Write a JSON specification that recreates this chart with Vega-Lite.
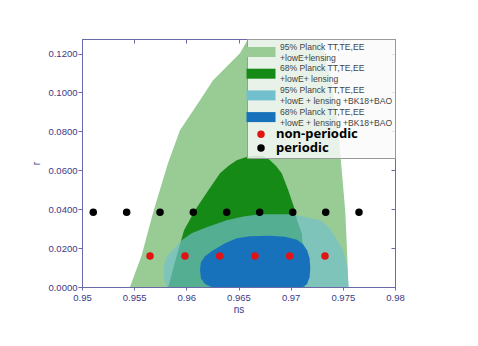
{
  "$schema": "https://vega.github.io/schema/vega-lite/v6.json",
  "width": 313,
  "height": 248,
  "autosize": "none",
  "padding": {"left": 82, "top": 39, "right": 83, "bottom": 59},
  "background": "white",
  "config": {
    "view": {"stroke": "#6a6aa8", "strokeWidth": 1},
    "axis": {
      "labelFont": "Liberation Sans", "labelFontSize": 9.5, "labelColor": "#3a3a88", "labelFlush": false,
      "titleFont": "Liberation Sans", "titleFontSize": 10, "titleFontWeight": "normal", "titleColor": "#3a3a88",
      "domainColor": "#6a6aa8", "tickColor": "#6a6aa8", "grid": false
    }
  },
  "datasets": {
    "regions": [
      {"series": "95% Planck TT,TE,EE +lowE+lensing", "ns": 0.9546, "hi": 0, "lo": 0},
      {"series": "95% Planck TT,TE,EE +lowE+lensing", "ns": 0.95572, "hi": 0.0163, "lo": 0},
      {"series": "95% Planck TT,TE,EE +lowE+lensing", "ns": 0.95683, "hi": 0.0386, "lo": 0},
      {"series": "95% Planck TT,TE,EE +lowE+lensing", "ns": 0.95824, "hi": 0.0636, "lo": 0},
      {"series": "95% Planck TT,TE,EE +lowE+lensing", "ns": 0.95939, "hi": 0.0806, "lo": 0},
      {"series": "95% Planck TT,TE,EE +lowE+lensing", "ns": 0.96131, "hi": 0.096, "lo": 0},
      {"series": "95% Planck TT,TE,EE +lowE+lensing", "ns": 0.96256, "hi": 0.1063, "lo": 0},
      {"series": "95% Planck TT,TE,EE +lowE+lensing", "ns": 0.96514, "hi": 0.1202, "lo": 0},
      {"series": "95% Planck TT,TE,EE +lowE+lensing", "ns": 0.96591, "hi": 0.1274, "lo": 0},
      {"series": "95% Planck TT,TE,EE +lowE+lensing", "ns": 0.9667, "hi": 0.133, "lo": 0},
      {"series": "95% Planck TT,TE,EE +lowE+lensing", "ns": 0.969, "hi": 0.14, "lo": 0},
      {"series": "95% Planck TT,TE,EE +lowE+lensing", "ns": 0.9715, "hi": 0.14, "lo": 0},
      {"series": "95% Planck TT,TE,EE +lowE+lensing", "ns": 0.97243, "hi": 0.132, "lo": 0},
      {"series": "95% Planck TT,TE,EE +lowE+lensing", "ns": 0.973, "hi": 0.1243, "lo": 0},
      {"series": "95% Planck TT,TE,EE +lowE+lensing", "ns": 0.97377, "hi": 0.1088, "lo": 0},
      {"series": "95% Planck TT,TE,EE +lowE+lensing", "ns": 0.97435, "hi": 0.0908, "lo": 0},
      {"series": "95% Planck TT,TE,EE +lowE+lensing", "ns": 0.97473, "hi": 0.0703, "lo": 0},
      {"series": "95% Planck TT,TE,EE +lowE+lensing", "ns": 0.97492, "hi": 0.0585, "lo": 0},
      {"series": "95% Planck TT,TE,EE +lowE+lensing", "ns": 0.97524, "hi": 0.0384, "lo": 0},
      {"series": "95% Planck TT,TE,EE +lowE+lensing", "ns": 0.97543, "hi": 0.0153, "lo": 0},
      {"series": "95% Planck TT,TE,EE +lowE+lensing", "ns": 0.97553, "hi": 0, "lo": 0},

      {"series": "68% Planck TT,TE,EE +lowE+ lensing", "ns": 0.95827, "hi": 0, "lo": 0},
      {"series": "68% Planck TT,TE,EE +lowE+ lensing", "ns": 0.95901, "hi": 0.01476, "lo": 0},
      {"series": "68% Planck TT,TE,EE +lowE+ lensing", "ns": 0.95978, "hi": 0.02915, "lo": 0},
      {"series": "68% Planck TT,TE,EE +lowE+ lensing", "ns": 0.96083, "hi": 0.03943, "lo": 0},
      {"series": "68% Planck TT,TE,EE +lowE+ lensing", "ns": 0.96211, "hi": 0.04972, "lo": 0},
      {"series": "68% Planck TT,TE,EE +lowE+ lensing", "ns": 0.96323, "hi": 0.05846, "lo": 0},
      {"series": "68% Planck TT,TE,EE +lowE+ lensing", "ns": 0.96405, "hi": 0.0624, "lo": 0},
      {"series": "68% Planck TT,TE,EE +lowE+ lensing", "ns": 0.96483, "hi": 0.06514, "lo": 0},
      {"series": "68% Planck TT,TE,EE +lowE+ lensing", "ns": 0.9656, "hi": 0.0666, "lo": 0},
      {"series": "68% Planck TT,TE,EE +lowE+ lensing", "ns": 0.96639, "hi": 0.06746, "lo": 0},
      {"series": "68% Planck TT,TE,EE +lowE+ lensing", "ns": 0.96725, "hi": 0.06746, "lo": 0},
      {"series": "68% Planck TT,TE,EE +lowE+ lensing", "ns": 0.96765, "hi": 0.0666, "lo": 0},
      {"series": "68% Planck TT,TE,EE +lowE+ lensing", "ns": 0.96802, "hi": 0.06514, "lo": 0},
      {"series": "68% Planck TT,TE,EE +lowE+ lensing", "ns": 0.9686, "hi": 0.0622, "lo": 0},
      {"series": "68% Planck TT,TE,EE +lowE+ lensing", "ns": 0.96914, "hi": 0.05846, "lo": 0},
      {"series": "68% Planck TT,TE,EE +lowE+ lensing", "ns": 0.96977, "hi": 0.04972, "lo": 0},
      {"series": "68% Planck TT,TE,EE +lowE+ lensing", "ns": 0.97042, "hi": 0.03943, "lo": 0},
      {"series": "68% Planck TT,TE,EE +lowE+ lensing", "ns": 0.97061, "hi": 0.03429, "lo": 0},
      {"series": "68% Planck TT,TE,EE +lowE+ lensing", "ns": 0.97106, "hi": 0.02761, "lo": 0},
      {"series": "68% Planck TT,TE,EE +lowE+ lensing", "ns": 0.97121, "hi": 0.01887, "lo": 0},
      {"series": "68% Planck TT,TE,EE +lowE+ lensing", "ns": 0.97132, "hi": 0.0096, "lo": 0},
      {"series": "68% Planck TT,TE,EE +lowE+ lensing", "ns": 0.97139, "hi": 0, "lo": 0},

      {"series": "95% Planck TT,TE,EE +lowE + lensing +BK18+BAO", "ns": 0.95781, "hi": 0.0076, "lo": 0.0076},
      {"series": "95% Planck TT,TE,EE +lowE + lensing +BK18+BAO", "ns": 0.95791, "hi": 0.0122, "lo": 0.0029},
      {"series": "95% Planck TT,TE,EE +lowE + lensing +BK18+BAO", "ns": 0.95815, "hi": 0.0158, "lo": 0},
      {"series": "95% Planck TT,TE,EE +lowE + lensing +BK18+BAO", "ns": 0.95843, "hi": 0.01733, "lo": 0},
      {"series": "95% Planck TT,TE,EE +lowE + lensing +BK18+BAO", "ns": 0.95956, "hi": 0.02401, "lo": 0},
      {"series": "95% Planck TT,TE,EE +lowE + lensing +BK18+BAO", "ns": 0.96051, "hi": 0.02761, "lo": 0},
      {"series": "95% Planck TT,TE,EE +lowE + lensing +BK18+BAO", "ns": 0.96195, "hi": 0.03069, "lo": 0},
      {"series": "95% Planck TT,TE,EE +lowE + lensing +BK18+BAO", "ns": 0.96387, "hi": 0.03429, "lo": 0},
      {"series": "95% Planck TT,TE,EE +lowE + lensing +BK18+BAO", "ns": 0.96546, "hi": 0.0362, "lo": 0},
      {"series": "95% Planck TT,TE,EE +lowE + lensing +BK18+BAO", "ns": 0.96706, "hi": 0.0374, "lo": 0},
      {"series": "95% Planck TT,TE,EE +lowE + lensing +BK18+BAO", "ns": 0.96994, "hi": 0.0374, "lo": 0},
      {"series": "95% Planck TT,TE,EE +lowE + lensing +BK18+BAO", "ns": 0.9709, "hi": 0.0366, "lo": 0},
      {"series": "95% Planck TT,TE,EE +lowE + lensing +BK18+BAO", "ns": 0.97281, "hi": 0.0343, "lo": 0},
      {"series": "95% Planck TT,TE,EE +lowE + lensing +BK18+BAO", "ns": 0.97352, "hi": 0.0313, "lo": 0},
      {"series": "95% Planck TT,TE,EE +lowE + lensing +BK18+BAO", "ns": 0.97406, "hi": 0.02761, "lo": 0},
      {"series": "95% Planck TT,TE,EE +lowE + lensing +BK18+BAO", "ns": 0.97502, "hi": 0.01887, "lo": 0},
      {"series": "95% Planck TT,TE,EE +lowE + lensing +BK18+BAO", "ns": 0.97543, "hi": 0.01013, "lo": 0},
      {"series": "95% Planck TT,TE,EE +lowE + lensing +BK18+BAO", "ns": 0.97557, "hi": 0, "lo": 0},

      {"series": "68% Planck TT,TE,EE +lowE + lensing +BK18+BAO", "ns": 0.96131, "hi": 0.00858, "lo": 0.00858},
      {"series": "68% Planck TT,TE,EE +lowE + lensing +BK18+BAO", "ns": 0.9614, "hi": 0.0127, "lo": 0.0045},
      {"series": "68% Planck TT,TE,EE +lowE + lensing +BK18+BAO", "ns": 0.96179, "hi": 0.0158, "lo": 0.0015},
      {"series": "68% Planck TT,TE,EE +lowE + lensing +BK18+BAO", "ns": 0.96243, "hi": 0.01836, "lo": 0},
      {"series": "68% Planck TT,TE,EE +lowE + lensing +BK18+BAO", "ns": 0.96371, "hi": 0.02247, "lo": 0},
      {"series": "68% Planck TT,TE,EE +lowE + lensing +BK18+BAO", "ns": 0.96483, "hi": 0.02504, "lo": 0},
      {"series": "68% Planck TT,TE,EE +lowE + lensing +BK18+BAO", "ns": 0.9661, "hi": 0.02607, "lo": 0},
      {"series": "68% Planck TT,TE,EE +lowE + lensing +BK18+BAO", "ns": 0.96802, "hi": 0.02632, "lo": 0},
      {"series": "68% Planck TT,TE,EE +lowE + lensing +BK18+BAO", "ns": 0.96946, "hi": 0.02581, "lo": 0},
      {"series": "68% Planck TT,TE,EE +lowE + lensing +BK18+BAO", "ns": 0.97061, "hi": 0.02427, "lo": 0},
      {"series": "68% Planck TT,TE,EE +lowE + lensing +BK18+BAO", "ns": 0.97118, "hi": 0.02195, "lo": 0},
      {"series": "68% Planck TT,TE,EE +lowE + lensing +BK18+BAO", "ns": 0.97157, "hi": 0.01887, "lo": 0.0015},
      {"series": "68% Planck TT,TE,EE +lowE + lensing +BK18+BAO", "ns": 0.97181, "hi": 0.01476, "lo": 0.005},
      {"series": "68% Planck TT,TE,EE +lowE + lensing +BK18+BAO", "ns": 0.97188, "hi": 0.00961, "lo": 0.00961}
    ],
    "points": [
      {"series": "periodic", "ns": 0.95108, "r": 0.0384},
      {"series": "periodic", "ns": 0.95428, "r": 0.0384},
      {"series": "periodic", "ns": 0.95748, "r": 0.0384},
      {"series": "periodic", "ns": 0.96067, "r": 0.0384},
      {"series": "periodic", "ns": 0.96387, "r": 0.0384},
      {"series": "periodic", "ns": 0.96703, "r": 0.0384},
      {"series": "periodic", "ns": 0.9702, "r": 0.0384},
      {"series": "periodic", "ns": 0.97336, "r": 0.0384},
      {"series": "periodic", "ns": 0.97655, "r": 0.0384},
      {"series": "non-periodic", "ns": 0.95652, "r": 0.0159},
      {"series": "non-periodic", "ns": 0.95987, "r": 0.0159},
      {"series": "non-periodic", "ns": 0.9632, "r": 0.0159},
      {"series": "non-periodic", "ns": 0.96658, "r": 0.0159},
      {"series": "non-periodic", "ns": 0.96991, "r": 0.0159},
      {"series": "non-periodic", "ns": 0.97329, "r": 0.0159}
    ]
  },
  "resolve": {"axis": {"x": "independent", "y": "independent"}},
  "layer": [
    {
      "data": {"name": "regions"},
      "transform": [{"filter": "datum.series == '95% Planck TT,TE,EE +lowE+lensing'"}],
      "mark": {"type": "area", "clip": true, "interpolate": "linear"},
      "encoding": {
        "x": {"field": "ns", "type": "quantitative", "scale": {"domain": [0.95, 0.98], "nice": false, "zero": false},
              "axis": {"orient": "bottom", "values": [0.95, 0.955, 0.96, 0.965, 0.97, 0.975, 0.98], "format": ".3~f", "tickSize": 3, "labelPadding": 2, "titlePadding": 3, "title": "ns"}},
        "y": {"field": "hi", "type": "quantitative", "scale": {"domain": [0, 0.1275], "nice": false, "zero": false},
              "axis": {"orient": "left", "values": [0, 0.02, 0.04, 0.06, 0.08, 0.1, 0.12], "format": ".4f", "tickSize": 4, "labelPadding": 1, "titlePadding": 6, "title": "r"}},
        "y2": {"field": "lo"},
        "color": {
          "field": "series", "type": "nominal",
          "scale": {
            "domain": ["95% Planck TT,TE,EE +lowE+lensing", "68% Planck TT,TE,EE +lowE+ lensing", "95% Planck TT,TE,EE +lowE + lensing +BK18+BAO", "68% Planck TT,TE,EE +lowE + lensing +BK18+BAO", "non-periodic", "periodic"],
            "range": ["#98cc94", "#168a16", "#72c0cd", "#1772bb", "#e01414", "#000000"]
          },
          "legend": {
            "title": null, "orient": "top-right", "offset": 0, "padding": 2.5, "rowPadding": 0.7,
            "fillColor": "rgba(250,250,250,0.82)", "strokeColor": "#9a9a9a",
            "labelFont": "Liberation Sans", "labelFontSize": 8.6, "labelColor": "#444444", "labelLimit": 400,
            "symbolSize": 100, "symbolType": "M-2.9,0.1H2.9V2.1H-2.9Z", "symbolStrokeWidth": 0,
            "symbolOffset": 6.5, "labelOffset": 14,
            "labelExpr": "indexof(datum.label, ' +') > 0 ? [substring(datum.label, 0, indexof(datum.label, ' +')), substring(datum.label, indexof(datum.label, ' +') + 1, length(datum.label))] : datum.label",
            "encode": {
              "symbols": {"update": {
                "shape": {"signal": "datum.index >= 4 ? 'circle' : 'M-2.9,0.1H2.9V2.1H-2.9Z'"},
                "size": {"signal": "datum.index >= 4 ? 56 : 100"},
                "fill": {"signal": "scale('color', datum.value)"},
                "opacity": {"value": 1}
              }},
              "labels": {"update": {
                "fontSize": {"signal": "datum.index >= 4 ? 13 : 8.6"},
                "fontWeight": {"signal": "datum.index >= 4 ? 'bold' : 'normal'"},
                "font": {"signal": "datum.index >= 4 ? 'Noto Sans' : 'Liberation Sans'"},
                "fill": {"signal": "datum.index >= 4 ? '#000000' : '#444444'"},
                "lineHeight": {"value": 11},
                "dx": {"signal": "datum.index >= 4 ? -4 : 0"}
              }}
            }
          }
        }
      }
    },
    {
      "data": {"name": "regions"},
      "transform": [{"filter": "datum.series == '68% Planck TT,TE,EE +lowE+ lensing'"}],
      "mark": {"type": "area", "clip": true, "interpolate": "linear"},
      "encoding": {
        "x": {"field": "ns", "type": "quantitative", "axis": null},
        "y": {"field": "hi", "type": "quantitative", "axis": null},
        "y2": {"field": "lo"},
        "color": {"field": "series", "type": "nominal"}
      }
    },
    {
      "data": {"name": "regions"},
      "transform": [{"filter": "datum.series == '95% Planck TT,TE,EE +lowE + lensing +BK18+BAO'"}],
      "mark": {"type": "area", "clip": true, "interpolate": "linear", "opacity": 0.68},
      "encoding": {
        "x": {"field": "ns", "type": "quantitative", "axis": null},
        "y": {"field": "hi", "type": "quantitative", "axis": null},
        "y2": {"field": "lo"},
        "color": {"field": "series", "type": "nominal"}
      }
    },
    {
      "data": {"name": "regions"},
      "transform": [{"filter": "datum.series == '68% Planck TT,TE,EE +lowE + lensing +BK18+BAO'"}],
      "mark": {"type": "area", "clip": true, "interpolate": "linear"},
      "encoding": {
        "x": {"field": "ns", "type": "quantitative", "axis": null},
        "y": {"field": "hi", "type": "quantitative", "axis": null},
        "y2": {"field": "lo"},
        "color": {"field": "series", "type": "nominal"}
      }
    },
    {
      "data": {"name": "points"},
      "mark": {"type": "circle", "size": 56, "opacity": 1},
      "encoding": {
        "x": {"field": "ns", "type": "quantitative",
              "axis": {"orient": "top", "values": [0.95, 0.955, 0.96, 0.965, 0.97, 0.975, 0.98], "labels": false, "tickSize": -4, "title": null}},
        "y": {"field": "r", "type": "quantitative",
              "axis": {"orient": "right", "values": [0, 0.02, 0.04, 0.06, 0.08, 0.1, 0.12], "labels": false, "tickSize": -4, "title": null}},
        "color": {"field": "series", "type": "nominal"}
      }
    }
  ]
}
